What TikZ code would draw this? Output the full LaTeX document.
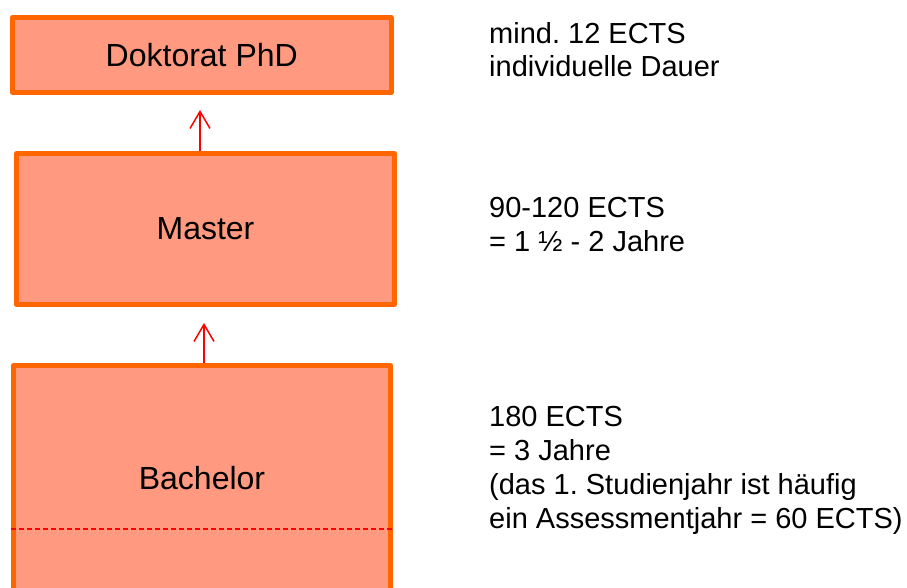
\documentclass[tikz,border=0pt]{standalone}
\usepackage{fontspec}
\setmainfont{Liberation Sans}
\usetikzlibrary{arrows.meta}
\frenchspacing
\definecolor{boxfill}{HTML}{FF9980}
\definecolor{boxline}{HTML}{FF6600}
\definecolor{arrred}{HTML}{FF0000}
\tikzset{
  stage/.style={draw=boxline, fill=boxfill, line width=5pt, line join=round,
    inner sep=0pt, font=\fontsize{32}{36}\selectfont},
  stagelabel/.style={inner sep=0pt, font=\fontsize{32}{36}\selectfont},
  % multi-line notes: the base anchor sits on the last line's baseline
  info/.style={anchor=base west, inner sep=0pt, align=left,
    font=\fontsize{29}{33.7}\selectfont\frenchspacing},
  uparrow/.style={draw=arrred, line width=1.5pt,
    -{Straight Barb[length=17pt,width=20pt,line width=1.5pt]}},
  yearline/.style={draw=arrred, line width=1.2pt, dash pattern=on 5pt off 3pt}
}
\begin{document}
\begin{tikzpicture}[x=1pt,y=-1pt]
  \useasboundingbox (0,0) rectangle (907,588);
  \clip (0,0) rectangle (907,588);

  % study levels
  \node[stage, minimum width=378.5pt, minimum height=75pt] (phd) at (201.75,55) {Doktorat PhD};
  \node[stage, minimum width=378pt, minimum height=151pt] (mas) at (205.5,229) {Master};
  \node[stage, minimum width=377pt, minimum height=260pt] (bach) at (202,495.5) {};
  \node[stagelabel] (bachtext) at (202,478) {Bachelor};

  % first year (assessment year) boundary
  \coordinate (dl) at (11,529);
  \coordinate (dr) at (393,529);
  \draw[yearline] (dl) -- (dr);

  % progression arrows
  \coordinate (tip1) at (200,110);
  \coordinate (tip2) at (204,323);
  \draw[uparrow] ([xshift=-5.5pt]mas.north) -- (tip1);
  \draw[uparrow] ([xshift=2pt]bach.north) -- (tip2);

  % credit notes
  \node[info] (phdinfo) at (489,77) {mind. 12 ECTS\\individuelle Dauer};
  \node[info] (masinfo) at (489,251.5) {90-120 ECTS\\= 1 ½ - 2 Jahre};
  \node[info] (bachinfo) at (489,528) {180 ECTS\\= 3 Jahre\\(das 1. Studienjahr ist häufig\\ein Assessmentjahr = 60 ECTS)};
\end{tikzpicture}
\end{document}
